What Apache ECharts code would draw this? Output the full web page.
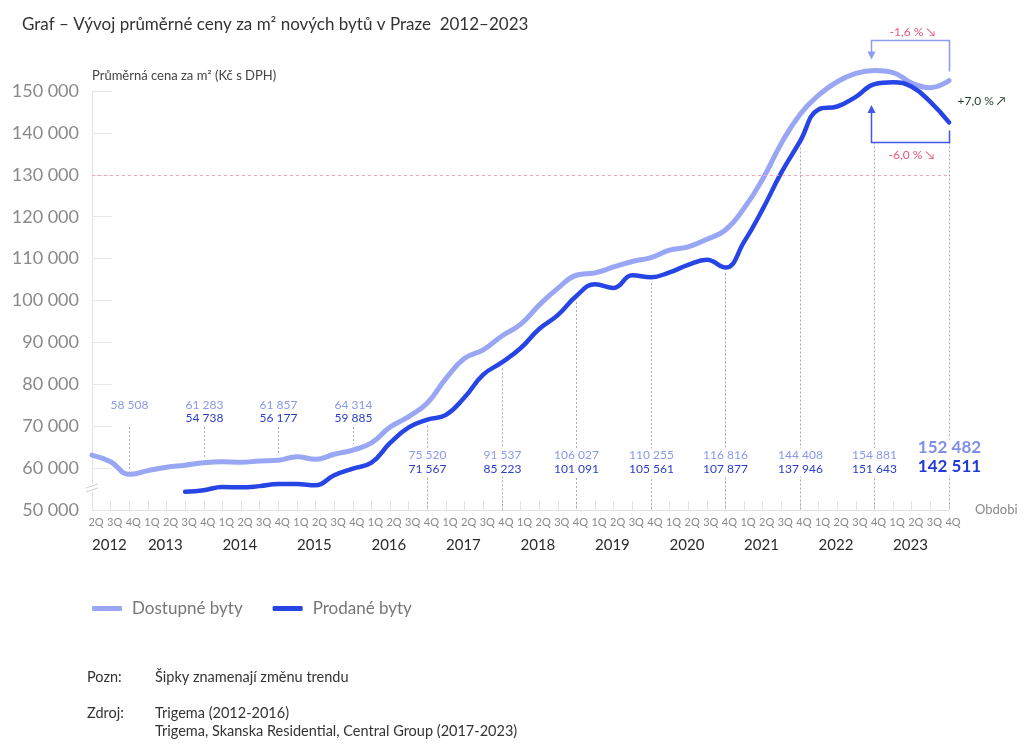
<!DOCTYPE html>
<html><head><meta charset="utf-8">
<script src="https://cdn.jsdelivr.net/npm/echarts@6/dist/echarts.min.js"></script>
<style>html,body{margin:0;padding:0;background:#fff}#c{width:1028px;height:746px}</style>
</head><body><div id="c"></div>
<script>
// ---- data ----
const categories = [
  '2Q 2012','3Q 2012','4Q 2012',
  '1Q 2013','2Q 2013','3Q 2013','4Q 2013',
  '1Q 2014','2Q 2014','3Q 2014','4Q 2014',
  '1Q 2015','2Q 2015','3Q 2015','4Q 2015',
  '1Q 2016','2Q 2016','3Q 2016','4Q 2016',
  '1Q 2017','2Q 2017','3Q 2017','4Q 2017',
  '1Q 2018','2Q 2018','3Q 2018','4Q 2018',
  '1Q 2019','2Q 2019','3Q 2019','4Q 2019',
  '1Q 2020','2Q 2020','3Q 2020','4Q 2020',
  '1Q 2021','2Q 2021','3Q 2021','4Q 2021',
  '1Q 2022','2Q 2022','3Q 2022','4Q 2022',
  '1Q 2023','2Q 2023','3Q 2023','4Q 2023'
];
const available = [
  63100, 61500, 58508,
  59400, 60200, 60700, 61283,
  61500, 61400, 61700, 61857,
  62700, 62100, 63300, 64314,
  66000, 69800, 72300, 75520,
  81400, 86200, 88200, 91537,
  94300, 98900, 102900, 106027,
  106600, 108000, 109300, 110255,
  112000, 112800, 114600, 116816,
  122000, 129000, 137500, 144408,
  149000, 152200, 154200, 154881,
  154400, 151900, 150800, 152482
];
const sold = [
  null, null, null,
  null, null, 54350, 54738,
  55500, 55400, 55700, 56177,
  56200, 55900, 58300, 59885,
  61300, 66000, 69700, 71567,
  72700, 76900, 82300, 85223,
  88600, 93200, 96500, 101091,
  103900, 103000, 106000, 105561,
  106700, 108500, 109700, 107877,
  114000, 121800, 130500, 137946,
  145600, 146300, 148600, 151643,
  152100, 151000, 147400, 142511
];
const labelIdx = [2, 6, 10, 14, 18, 22, 26, 30, 34, 38, 42, 46];
const changeTexts = ['-1,6 % \u2198', '-6,0 % \u2198', '+7,0 % \u2197'];
const seriesNames = ['Dostupné byty', 'Prodané byty'];
const titleText = 'Graf – Vývoj průměrné ceny za m² nových bytů v Praze  2012–2023';
const yName = 'Průměrná cena za m² (Kč s DPH)';
const notes = [
  ['Pozn:', 'Šipky znamenají změnu trendu'],
  ['Zdroj:', 'Trigema (2012-2016)'],
  ['', 'Trigema, Skanska Residential, Central Group (2017-2023)']
];

// ---- style ----
const FF = 'Lato, "Noto Sans", sans-serif';
const C_LIGHT = '#98a6f3', C_DARK = '#2744e4';
const C_LIGHT_TXT = '#8a99ec', C_DARK_TXT = '#2b3dc8';
const C_PINK = '#e8557a', C_GREEN = '#1d3a28';
const fmt = v => String(v).replace(/\B(?=(\d{3})+(?!\d))/g, ' ');

const chart = echarts.init(document.getElementById('c'));
chart.setOption({
  animation: false,
  backgroundColor: '#fff',
  title: { text: titleText, left: 17, top: 11,
    textStyle: { fontFamily: FF, fontSize: 17, fontWeight: 'normal', color: '#333' } },
  legend: { left: 87, top: 595, itemWidth: 30, itemHeight: 5, itemGap: 30, icon: 'roundRect',
    data: seriesNames,
    textStyle: { fontFamily: FF, fontSize: 17, color: '#777', padding: [0, 0, 0, 5] } },
  grid: { left: 92, right: 79, top: 91, bottom: 236, containLabel: false },
  xAxis: [{
    type: 'category', data: categories, boundaryGap: false,
    axisLine: { lineStyle: { color: '#e2e2e2' } },
    axisTick: { show: true, inside: true, length: 9, interval: 0, lineStyle: { color: '#e2e2e2' } },
    axisLabel: { interval: 0, formatter: v => v.split(' ')[0], color: '#8a8a8a',
      fontFamily: FF, fontSize: 11, margin: 7, padding: [0, 0, 0, 8] },
    name: 'Obdobi', nameLocation: 'end', nameGap: 26,
    nameTextStyle: { color: '#8a8a8a', fontFamily: FF, fontSize: 13, padding: [0, 0, 6, 0] }
  }, {
    type: 'category', data: categories, boundaryGap: false, position: 'bottom', offset: 24,
    axisLine: { show: false }, axisTick: { show: false }, splitLine: { show: false },
    axisLabel: { interval: 0, align: 'left', color: '#2b2b2b', fontFamily: FF, fontSize: 15, margin: 4,
      formatter: (v, i) => { const p = v.split(' '); return (p[0] === '1Q' || i === 0) ? p[1] : ''; } }
  }],
  yAxis: {
    type: 'value', min: 50000, max: 150000, interval: 10000,
    name: yName, nameLocation: 'end', nameGap: 9,
    nameTextStyle: { align: 'left', color: '#444', fontFamily: FF, fontSize: 13 },
    axisLine: { show: true, lineStyle: { color: '#e2e2e2' } },
    axisTick: { show: true, inside: true, length: 20, lineStyle: { color: '#e6e6e6' } },
    splitLine: { show: false },
    axisLabel: { color: '#8a8a8a', fontFamily: FF, fontSize: 18, margin: 13, padding: [0, 0, 6, 0],
      formatter: v => fmt(v) }
  },
  series: [{
    name: seriesNames[0], type: 'line', data: available, smooth: 0.45, symbol: 'none', clip: false,
    lineStyle: { width: 5, color: C_LIGHT, cap: 'round' }, itemStyle: { color: C_LIGHT }, z: 3,
    markLine: { silent: true, symbol: 'none', label: { show: false },
      lineStyle: { type: [3, 3], color: '#f6a3b6', width: 1 },
      data: [{ yAxis: 130000 }] }
  }, {
    name: seriesNames[1], type: 'line', data: sold, smooth: 0.45, symbol: 'none', clip: false,
    lineStyle: { width: 4.5, color: C_DARK, cap: 'round' }, itemStyle: { color: C_DARK }, z: 4
  }]
});

// ---- annotations placed through the chart's scales ----
const px = (i, v) => chart.convertToPixel({ gridIndex: 0 }, [i, v]);
const g = [];
const yBase = px(0, 50000)[1];
const last = categories.length - 1, peak = 42;
const topY = px(peak, available[peak])[1] - 30;
const botY = px(last, sold[last])[1] + 20;
const dot = { stroke: '#a9a9a9', lineWidth: 1, lineDash: [2, 2] };

labelIdx.forEach(i => {
  const x = Math.round(px(i, 0)[0]) + 0.5;
  const early = i <= 14;
  const isLast = i === last;
  if (early) {
    g.push({ type: 'line', z: 1, shape: { x1: x, y1: 427, x2: x, y2: px(i, available[i])[1] - 6 }, style: dot });
    g.push({ type: 'text', z: 5, x: x, y: 405, style: { text: fmt(available[i]), fill: C_LIGHT_TXT,
      font: '12px ' + FF, align: 'center', verticalAlign: 'middle' } });
    if (sold[i] != null) g.push({ type: 'text', z: 5, x: x, y: 418.5, style: { text: fmt(sold[i]), fill: C_DARK_TXT,
      font: '12px ' + FF, align: 'center', verticalAlign: 'middle' } });
  } else {
    let y1 = px(i, sold[i])[1] + 6;
    if (i >= peak) y1 = botY;
    g.push({ type: 'line', z: 1, shape: { x1: x, y1: y1, x2: x, y2: yBase }, style: dot });
    if (isLast) {
      g.push({ type: 'text', z: 5, x: x, y: 448, style: { text: fmt(available[i]), fill: '#7f8fe8',
        font: 'bold 17px ' + FF, align: 'center', verticalAlign: 'middle', backgroundColor: '#fff', padding: [0, 2] } });
      g.push({ type: 'text', z: 5, x: x, y: 467, style: { text: fmt(sold[i]), fill: '#2238d8',
        font: 'bold 17px ' + FF, align: 'center', verticalAlign: 'middle', backgroundColor: '#fff', padding: [0, 2] } });
    } else {
      g.push({ type: 'text', z: 5, x: x, y: 455.5, style: { text: fmt(available[i]), fill: C_LIGHT_TXT,
        font: '12px ' + FF, align: 'center', verticalAlign: 'middle', backgroundColor: '#fff', padding: [1, 2] } });
      g.push({ type: 'text', z: 5, x: x, y: 469.5, style: { text: fmt(sold[i]), fill: C_DARK_TXT,
        font: '12px ' + FF, align: 'center', verticalAlign: 'middle', backgroundColor: '#fff', padding: [1, 2] } });
    }
  }
});

// brackets
const xP = Math.round(px(peak, 0)[0]) - 2.5, xL = Math.round(px(last, 0)[0]) + 0.5;
const lightTop = { stroke: '#8d9cf0', lineWidth: 1.5 };
const darkBot = { stroke: '#4058e2', lineWidth: 1.5 };
const tipTop = px(peak, available[peak])[1] - 11;
const tipBot = px(peak, sold[peak])[1] + 21;
g.push({ type: 'polyline', z: 6, shape: { points: [[xP, tipTop - 6], [xP, topY], [xL, topY], [xL, px(last, available[last])[1] - 9]] }, style: Object.assign({ fill: null }, lightTop) });
g.push({ type: 'polygon', z: 6, shape: { points: [[xP - 4, tipTop - 8], [xP + 4, tipTop - 8], [xP, tipTop]] }, style: { fill: '#8d9cf0' } });
g.push({ type: 'polyline', z: 6, shape: { points: [[xP, tipBot + 6], [xP, botY], [xL, botY], [xL, px(last, sold[last])[1] + 8]] }, style: Object.assign({ fill: null }, darkBot) });
g.push({ type: 'polygon', z: 6, shape: { points: [[xP - 4, tipBot + 8], [xP + 4, tipBot + 8], [xP, tipBot]] }, style: { fill: '#4058e2' } });
g.push({ type: 'text', z: 6, x: (xP + xL) / 2 + 2, y: topY - 8, style: { text: changeTexts[0], fill: C_PINK,
  font: '12px ' + FF, align: 'center', verticalAlign: 'middle' } });
g.push({ type: 'text', z: 6, x: (xP + xL) / 2 + 1, y: botY + 13, style: { text: changeTexts[1], fill: C_PINK,
  font: '12px ' + FF, align: 'center', verticalAlign: 'middle', backgroundColor: '#fff', padding: [1, 2] } });
g.push({ type: 'text', z: 6, x: xL + 8, y: (px(last, available[last])[1] + px(last, sold[last])[1]) / 2, style: { text: changeTexts[2], fill: C_GREEN,
  font: '12px ' + FF, align: 'left', verticalAlign: 'middle' } });

// axis break mark
const bx = px(0, 0)[0], by = px(0, 55500)[1];
g.push({ type: 'rect', z: 6, shape: { x: bx - 2, y: by - 3, width: 4, height: 8 }, style: { fill: '#fff' } });
g.push({ type: 'line', z: 7, shape: { x1: bx - 6, y1: by + 1, x2: bx + 6, y2: by - 3 }, style: { stroke: '#cfcfcf', lineWidth: 1 } });
g.push({ type: 'line', z: 7, shape: { x1: bx - 6, y1: by + 5, x2: bx + 6, y2: by + 1 }, style: { stroke: '#cfcfcf', lineWidth: 1 } });

// footnotes
const noteY = [677, 713, 731];
notes.forEach((n, k) => {
  if (n[0]) g.push({ type: 'text', x: 87, y: noteY[k], style: { text: n[0], fill: '#333', font: '14.5px ' + FF, verticalAlign: 'middle' } });
  g.push({ type: 'text', x: 155, y: noteY[k], style: { text: n[1], fill: '#333', font: '14.5px ' + FF, verticalAlign: 'middle' } });
});

chart.setOption({ graphic: { elements: g } });
</script>
</body></html>
